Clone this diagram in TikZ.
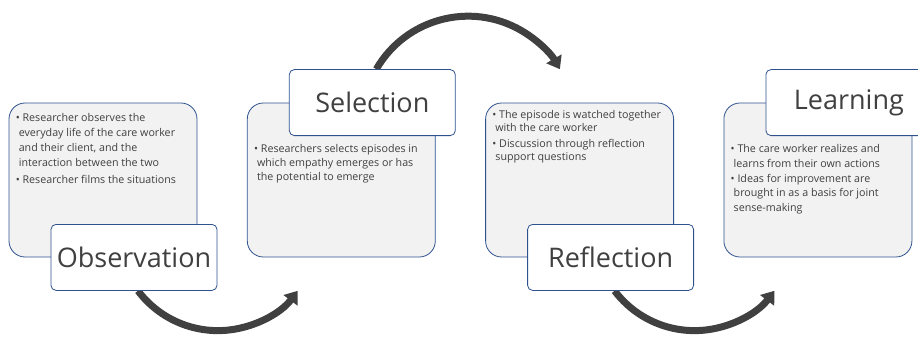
\documentclass[tikz,border=0pt]{standalone}
\usepackage{fontspec}
\setmainfont{Open Sans}
\usetikzlibrary{arrows.meta,chains,positioning}
\pgfdeclarelayer{background}
\pgfsetlayers{background,main}
\definecolor{boxline}{HTML}{2F528F}
\definecolor{boxfill}{HTML}{F2F2F2}
\definecolor{ink}{HTML}{404040}
\tikzset{info/.style={draw=boxline, line width=0.8pt, fill=boxfill, rounded corners=16pt, minimum width=188pt, minimum height=154pt, inner sep=0pt, on chain},
  infotext/.style={anchor=north west, align=left, inner sep=0pt, text=ink, font=\fontsize{10.7}{#1}\selectfont},
  title/.style={draw=boxline, line width=0.8pt, fill=white, rounded corners=5pt, minimum width=166pt, minimum height=66pt, inner sep=0pt, anchor=west, text=ink, font=\fontsize{27}{30}\selectfont},
  cycle/.style={draw=ink, line width=7pt, -{Triangle[width=17pt,length=12pt]}},
  start chain=going right, node distance=49.5pt}

\begin{document}
\begin{tikzpicture}
    \useasboundingbox (0,0) rectangle (918pt,-337pt);
    \clip (0,0) rectangle (918pt,-337pt);
    % detail boxes
    \node[info] (obsinfo) at (103pt,-180pt) {};
    \node[info] (selinfo) {};
    \node[info] (refinfo) {};
    \node[info] (lrninfo) {};
    \node[infotext=15] (obstext) at ([shift={(7pt,-10.6pt)}]obsinfo.north west) {\textbullet\ Researcher observes the\\\hspace*{3pt}everyday life of the care worker\\\hspace*{3pt}and their client, and the\\\hspace*{3pt}interaction between the two\\[1.5pt]\textbullet\ Researcher films the situations};
    \node[infotext=14] (seltext) at ([shift={(7pt,-41.6pt)}]selinfo.north west) {\textbullet\ Researchers selects episodes in\\\hspace*{3pt}which empathy emerges or has\\\hspace*{3pt}the potential to emerge};
    \node[infotext=13] (reftext) at ([shift={(7pt,-7.5pt)}]refinfo.north west) {\textbullet\ The episode is watched together\\\hspace*{3pt}with the care worker\\[3.5pt]\textbullet\ Discussion through reflection\\\hspace*{3pt}support questions};
    \node[infotext=14.5] (lrntext) at ([shift={(7pt,-41.6pt)}]lrninfo.north west) {\textbullet\ The care worker realizes and\\\hspace*{3pt}learns from their own actions\\[0.5pt]\textbullet\ Ideas for improvement are\\\hspace*{3pt}brought in as a basis for joint\\\hspace*{3pt}sense-making};
    % step titles
    \node[title] (obs) at ([xshift=42pt]obsinfo.south west) {Observation};
    \node[title] (sel) at ([xshift=42pt]selinfo.north west) {Selection};
    \node[title] (ref) at ([xshift=42pt]refinfo.south west) {Reflection};
    \node[title] (lrn) at ([xshift=42pt]lrninfo.north west) {Learning};
    % curved arrows
    \begin{pgfonlayer}{background}
    \path[cycle] ([xshift=4pt]obs.south) arc[start angle=217, end angle=323, radius=100pt];
    \path[cycle] ([xshift=4pt]sel.north) arc[start angle=150, end angle=30, radius=106pt];
    \path[cycle] ([xshift=4pt]ref.south) arc[start angle=217, end angle=323, radius=100pt];
    \end{pgfonlayer}
\end{tikzpicture}
\end{document}
